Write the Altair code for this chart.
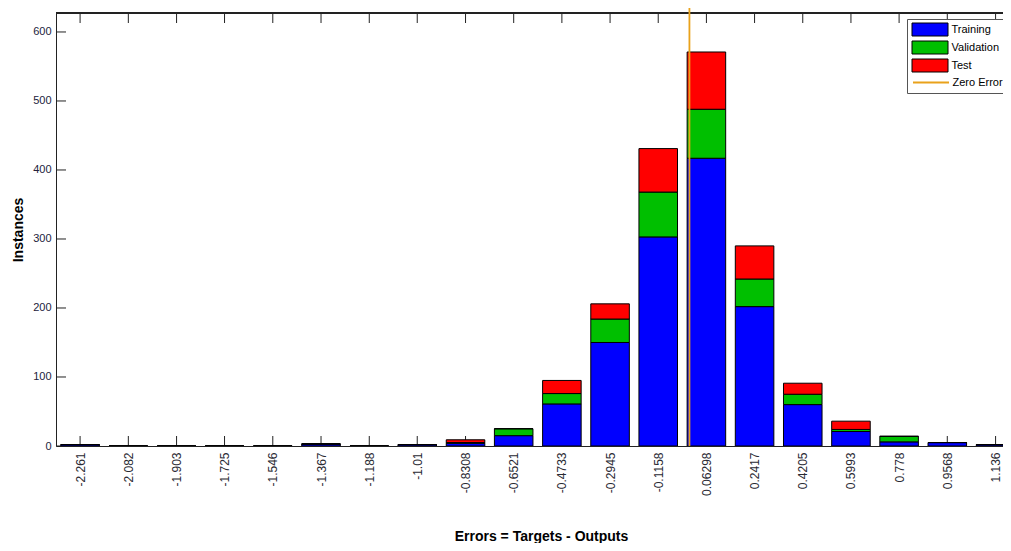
import json
import altair as alt
import pandas as pd

# ---- data ----
centers = [-2.261, -2.082, -1.903, -1.725, -1.546, -1.367, -1.188, -1.01, -0.8308, -0.6521,
           -0.4733, -0.2945, -0.1158, 0.06298, 0.2417, 0.4205, 0.5993, 0.778, 0.9568, 1.136]
tick_labels = ["-2.261", "-2.082", "-1.903", "-1.725", "-1.546", "-1.367", "-1.188", "-1.01",
               "-0.8308", "-0.6521", "-0.4733", "-0.2945", "-0.1158", "0.06298", "0.2417",
               "0.4205", "0.5993", "0.778", "0.9568", "1.136"]
training = [2, 0, 0, 0, 0, 3, 0, 2, 4, 15, 61, 150, 303, 417, 202, 60, 21, 6, 5, 2]
validation = [0, 0, 0, 0, 0, 0, 0, 0, 1, 10, 15, 34, 65, 71, 40, 15, 3, 8, 0, 0]
test = [0, 0, 0, 0, 0, 0, 0, 0, 4, 0, 19, 22, 63, 83, 48, 16, 12, 0, 0, 0]
series = ["Training", "Validation", "Test"]
series_colors = ["#0000FF", "#00BF00", "#FF0000"]
zero_label = "Zero Error"
zero_color = "#E9A21B"
y_ticks = [0, 100, 200, 300, 400, 500, 600]

# ---- layout ----
W, H = 947, 433
bin_w = (centers[-1] - centers[0]) / (len(centers) - 1)
x_domain = [centers[0] - bin_w / 2, 1.1635]
y_domain = [0, 627.5]

rows = []
for i, c in enumerate(centers):
    base = 0
    for k, (name, vals) in enumerate(zip(series, [training, validation, test])):
        v = vals[i]
        rows.append({"lo": c - 0.4 * bin_w, "hi": c + 0.4 * bin_w, "y0": base,
                     "y1": base + v, "series": name, "order": k})
        base += v
bars_df = pd.DataFrame(rows)
xt_df = pd.DataFrame({"c": centers})
yt_df = pd.DataFrame({"v": y_ticks})
zero_df = pd.DataFrame({"x": [0.0], "label": [zero_label]})

xscale = alt.Scale(domain=x_domain, nice=False, zero=False)
yscale = alt.Scale(domain=y_domain, nice=False, zero=False)

label_expr = f"{json.dumps(tick_labels)}[indexof({json.dumps(centers)}, datum.value)]"
x_axis = alt.Axis(values=centers, labelExpr=label_expr, labelAngle=270, labelFontSize=12,
                  labelPadding=6, labelColor="#2a2a33", labelOverlap=False, labelFlush=False,
                  ticks=False, tickSize=0, grid=False, domainColor="#222222",
                  title="Errors = Targets - Outputs", titleFontSize=14, titleFontWeight="bold",
                  titleColor="#000000", titleY=94, titleX=485, titleBaseline="alphabetic")
y_axis = alt.Axis(values=y_ticks, labelFontSize=11, labelPadding=5, labelColor="#22223c",
                  ticks=False, tickSize=0, grid=False, domainColor="#222222",
                  title="Instances", titleFontSize=14, titleFontWeight="bold",
                  titleColor="#000000", titleX=-38, titleBaseline="middle")

RECT = "M-18,-6.5H18V6.5H-18Z"
LINE = "M-18,0H18"

bars = alt.Chart(bars_df).mark_bar(stroke="black", strokeWidth=1, clip=True).encode(
    x=alt.X("lo:Q", scale=xscale, axis=x_axis),
    x2="hi:Q",
    y=alt.Y("y1:Q", scale=yscale, axis=y_axis),
    y2="y0:Q",
    fill=alt.Fill("series:N", scale=alt.Scale(domain=series, range=series_colors),
                  legend=alt.Legend(title=" ", titleOrient="bottom", titleFontSize=11,
                                    titlePadding=3, orient="none", legendX=851, legendY=6,
                                    symbolType=RECT, symbolSize=4,
                                    symbolStrokeColor="black", symbolStrokeWidth=1,
                                    symbolOpacity=1, labelFontSize=11, labelColor="#000000",
                                    symbolOffset=12.5, labelOffset=16,
                                    rowPadding=1, padding=5,
                                    fillColor="white", strokeColor="#555555", zindex=1)),
    order=alt.Order("order:Q"),
)

zero = alt.Chart(zero_df).mark_rule(strokeWidth=1.8).encode(
    x=alt.X("x:Q", scale=xscale, axis=x_axis),
    y=alt.value(-5),
    y2=alt.value(H),
    stroke=alt.Stroke("label:N", scale=alt.Scale(domain=[zero_label], range=[zero_color]),
                      legend=alt.Legend(title=None, orient="none", legendX=857, legendY=64,
                                        symbolType=LINE, symbolSize=4,
                                        symbolStrokeWidth=2, labelFontSize=11,
                                        labelColor="#000000",
                                        symbolOffset=12.5, labelOffset=16,
                                        padding=0, zindex=2)),
)

bottom_ticks = alt.Chart(xt_df).mark_rule(color="#222222").encode(
    x=alt.X("c:Q", scale=xscale, axis=x_axis), y=alt.value(H), y2=alt.value(H - 10))
top_ticks = alt.Chart(xt_df).mark_rule(color="#222222").encode(
    x=alt.X("c:Q", scale=xscale, axis=x_axis), y=alt.value(0), y2=alt.value(10))
left_ticks = alt.Chart(yt_df).mark_rule(color="#222222").encode(
    y=alt.Y("v:Q", scale=yscale, axis=y_axis), x=alt.value(0), x2=alt.value(10))
top_border = alt.Chart(xt_df).mark_rule(color="#222222").encode(
    x=alt.value(0), x2=alt.value(W), y=alt.value(0))

chart = alt.layer(top_ticks, bottom_ticks, left_ticks, top_border, bars, zero).properties(
    width=W, height=H,
    padding={"left": 48, "top": 5, "right": 0, "bottom": 97},
    autosize=alt.AutoSizeParams(type="none"),
).configure(font="Liberation Sans").configure_view(stroke=None)

chart.save("out.html", embed_options={"renderer": "svg", "actions": False})
